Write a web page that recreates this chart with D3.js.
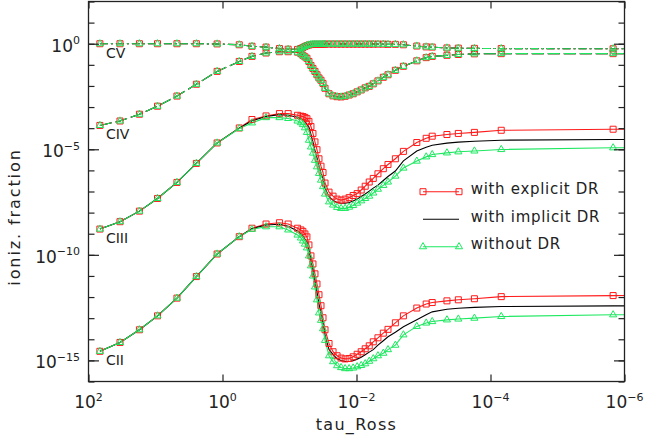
<!DOCTYPE html>
<html>
<head>
<meta charset="utf-8">
<script src="https://cdn.jsdelivr.net/npm/d3@7"></script>
<style>
  body { margin: 0; background: #fff; }
  svg { display: block; }
  text { font-family: "DejaVu Sans", sans-serif; fill: #222; }
</style>
</head>
<body>
<div id="chart"></div>
<script>
// depth grid, log10(tau_Ross)
const logTau = [1.83, 1.53, 1.24, 0.97, 0.68, 0.39, 0.08, -0.25, -0.44, -0.65, -0.85, -0.98, -1.12,
  -1.17, -1.20, -1.23, -1.26, -1.29, -1.32, -1.35, -1.38, -1.41, -1.44, -1.47, -1.50,
  -1.53, -1.59, -1.65, -1.71, -1.77, -1.83, -1.89, -1.95, -2.01, -2.07, -2.13, -2.19, -2.25, -2.32, -2.40, -2.47, -2.58,
  -2.70, -2.90, -3.04, -3.13, -3.35, -3.52, -3.76, -4.16, -5.83, -6.23];

// log10 of ionization fractions
const ciiExplicit = [-14.57, -14.15, -13.55, -12.89, -12.05, -11.03, -9.96, -9.14, -8.74, -8.54, -8.48, -8.54, -8.74,
  -8.82, -8.89, -9.01, -9.15, -9.53, -10.05, -10.43, -10.90, -11.38, -11.89, -12.41, -12.98,
  -13.55, -14.20, -14.59, -14.78, -14.89, -14.93, -14.91, -14.83, -14.71, -14.59, -14.45, -14.31, -14.12, -13.93, -13.71, -13.53, -13.22,
  -12.89, -12.52, -12.33, -12.26, -12.18, -12.13, -12.08, -11.98, -11.93, -11.92];
const ciiImplicit = [-14.57, -14.15, -13.55, -12.89, -12.05, -11.03, -9.96, -9.14, -8.76, -8.59, -8.55, -8.65, -8.87,
  -9.01, -9.11, -9.25, -9.39, -9.77, -10.29, -10.71, -11.23, -11.75, -12.32, -12.75, -13.25,
  -13.80, -14.48, -14.73, -14.92, -15.01, -15.05, -15.05, -15.01, -14.94, -14.85, -14.73, -14.61, -14.49, -14.28, -14.07, -13.88, -13.67,
  -13.41, -13.08, -12.84, -12.70, -12.58, -12.53, -12.49, -12.45, -12.42, -12.42];
const ciiWithout = [-14.57, -14.15, -13.55, -12.89, -12.05, -11.03, -9.96, -9.14, -8.79, -8.67, -8.67, -8.82, -9.06,
  -9.20, -9.34, -9.49, -9.67, -10.05, -10.52, -11.00, -11.52, -12.13, -12.75, -13.10, -13.50,
  -14.05, -14.78, -15.06, -15.25, -15.34, -15.39, -15.39, -15.36, -15.30, -15.24, -15.16, -15.04, -14.92, -14.78, -14.66, -14.49, -14.28,
  -13.79, -13.39, -13.23, -13.16, -13.08, -13.04, -13.00, -12.92, -12.84, -12.83];

const ciiiExplicit = [-8.78, -8.43, -7.93, -7.33, -6.57, -5.67, -4.70, -3.99, -3.59, -3.42, -3.31, -3.31, -3.39,
  -3.43, -3.45, -3.49, -3.55, -3.68, -3.92, -4.25, -4.65, -5.02, -5.45, -5.80, -6.10,
  -6.60, -7.03, -7.22, -7.36, -7.41, -7.36, -7.29, -7.19, -7.10, -6.93, -6.75, -6.55, -6.38, -6.16, -5.92, -5.72, -5.45,
  -5.10, -4.68, -4.48, -4.38, -4.30, -4.25, -4.20, -4.10, -4.05, -4.05];
const ciiiImplicit = [-8.78, -8.43, -7.93, -7.33, -6.57, -5.67, -4.70, -4.00, -3.65, -3.45, -3.36, -3.39, -3.48,
  -3.55, -3.62, -3.70, -3.82, -3.95, -4.30, -4.65, -5.05, -5.40, -5.78, -6.12, -6.42,
  -6.85, -7.25, -7.42, -7.52, -7.56, -7.56, -7.52, -7.45, -7.36, -7.24, -7.12, -6.98, -6.84, -6.70, -6.48, -6.29, -6.03,
  -5.55, -5.08, -4.90, -4.81, -4.71, -4.66, -4.62, -4.57, -4.54, -4.54];
const ciiiWithout = [-8.78, -8.43, -7.93, -7.33, -6.57, -5.67, -4.70, -4.02, -3.75, -3.50, -3.50, -3.54, -3.66,
  -3.74, -3.83, -3.98, -4.20, -4.57, -4.89, -5.18, -5.52, -5.83, -6.14, -6.46, -6.77,
  -7.12, -7.49, -7.64, -7.75, -7.80, -7.80, -7.74, -7.66, -7.55, -7.44, -7.33, -7.22, -7.07, -6.89, -6.71, -6.55, -6.27,
  -5.89, -5.56, -5.36, -5.25, -5.17, -5.12, -5.08, -5.01, -4.93, -4.93];

// CIV and CV: the three models coincide at this scale
const civ = [-3.87, -3.66, -3.34, -2.96, -2.48, -1.92, -1.31, -0.84, -0.60, -0.44, -0.38, -0.38, -0.40,
  -0.47, -0.55, -0.62, -0.69, -0.84, -1.03, -1.17, -1.31, -1.47, -1.62, -1.73, -1.88,
  -2.11, -2.37, -2.47, -2.51, -2.52, -2.49, -2.43, -2.37, -2.28, -2.19, -2.09, -2.02, -1.90, -1.76, -1.59, -1.47, -1.26,
  -1.07, -0.81, -0.66, -0.60, -0.55, -0.51, -0.48, -0.47, -0.47, -0.47];
const cv = [0, 0, 0, 0, 0, 0, -0.01, -0.05, -0.12, -0.16, -0.23, -0.26, -0.27,
  -0.23, -0.18, -0.13, -0.09, -0.06, -0.04, -0.03, -0.03, -0.03, -0.03, -0.03, -0.03,
  -0.02, -0.02, -0.02, -0.02, -0.02, -0.02, -0.02, -0.02, -0.02, -0.02, -0.02, -0.02, -0.02, -0.02, -0.02, -0.03, -0.03,
  -0.05, -0.11, -0.15, -0.16, -0.20, -0.21, -0.22, -0.23, -0.24, -0.24];

const xTicks = [1e2, 1e0, 1e-2, 1e-4, 1e-6];
const yMajor = [1e0, 1e-5, 1e-10, 1e-15];
const models = [
  { key: "explicit", label: "with explicit DR", color: "#ff1a1a", marker: "square" },
  { key: "implicit", label: "with implicit DR", color: "#000000", marker: null },
  { key: "without", label: "without DR", color: "#1ee860", marker: "triangle" }
];
const ions = [
  { name: "CII", dash: null, explicit: ciiExplicit, implicit: ciiImplicit, without: ciiWithout },
  { name: "CIII", dash: null, explicit: ciiiExplicit, implicit: ciiiImplicit, without: ciiiWithout },
  { name: "CIV", dash: "12,4", explicit: civ, implicit: civ, without: civ },
  { name: "CV", dash: "8,3,2,3", explicit: cv, implicit: cv, without: cv }
];

const width = 645, height = 439;
const plotLeft = 88.5, plotRight = 624.5, plotTop = 1.5, plotBottom = 381.5;

const x = d3.scaleLog().domain([1e2, 1e-6]).range([plotLeft, plotRight]);
const y = d3.scaleLog().domain([1e-16, 1e2]).range([plotBottom, plotTop]);

const svg = d3.select("#chart").append("svg")
  .attr("width", width).attr("height", height);

svg.append("defs").append("clipPath").attr("id", "plotclip")
  .append("rect").attr("x", plotLeft).attr("y", plotTop)
  .attr("width", plotRight - plotLeft).attr("height", plotBottom - plotTop);

const pts = arr => arr.map((v, i) => ({ tau: Math.pow(10, logTau[i]), v: Math.pow(10, v) }));

const line = d3.line().x(d => x(d.tau)).y(d => y(d.v));

const plot = svg.append("g").attr("clip-path", "url(#plotclip)");

// lines: red, black, green
models.forEach(m => {
  ions.forEach(ion => {
    plot.append("path")
      .datum(pts(ion[m.key]))
      .attr("fill", "none")
      .attr("stroke", m.color)
      .attr("stroke-width", 1.1)
      .attr("stroke-dasharray", ion.dash)
      .attr("d", line);
  });
});

const square = d3.symbol().type(d3.symbolSquare).size(36);
const triangle = d3.symbol().type(d3.symbolTriangle).size(22);

models.filter(m => m.marker).forEach(m => {
  ions.forEach(ion => {
    plot.append("g").selectAll("path")
      .data(pts(ion[m.key]))
      .join("path")
      .attr("transform", d => `translate(${x(d.tau)},${y(d.v)})`)
      .attr("d", m.marker === "square" ? square : triangle)
      .attr("fill", "none")
      .attr("stroke", m.color)
      .attr("stroke-width", 1);
  });
});

// ion labels beside first depth point
ions.forEach(ion => {
  const p = pts(ion.explicit)[0];
  svg.append("text")
    .attr("x", x(p.tau) + 6)
    .attr("y", y(p.v) + 14)
    .attr("font-size", 14)
    .text(ion.name);
});

// axes
const yDecades = d3.range(-16, 3).map(e => Math.pow(10, e));
const noLabel = () => "";

svg.append("g").attr("transform", `translate(0,${plotBottom})`)
  .call(d3.axisBottom(x).tickValues(xTicks).tickSize(-7).tickFormat(noLabel));
svg.append("g").attr("transform", `translate(0,${plotTop})`)
  .call(d3.axisTop(x).tickValues(xTicks).tickSize(-7).tickFormat(noLabel));
svg.append("g").attr("transform", `translate(${plotLeft},0)`)
  .call(d3.axisLeft(y).tickValues(yDecades).tickSize(-6).tickFormat(noLabel));
svg.append("g").attr("transform", `translate(${plotLeft},0)`)
  .call(d3.axisLeft(y).tickValues(yMajor).tickSize(-10.5).tickFormat(noLabel));
svg.append("g").attr("transform", `translate(${plotRight},0)`)
  .call(d3.axisRight(y).tickValues(yDecades).tickSize(-6).tickFormat(noLabel));
svg.append("g").attr("transform", `translate(${plotRight},0)`)
  .call(d3.axisRight(y).tickValues(yMajor).tickSize(-10.5).tickFormat(noLabel));

svg.selectAll(".domain").remove();
svg.selectAll(".tick line").attr("stroke", "#222").attr("stroke-width", 1.2);

svg.append("rect")
  .attr("x", plotLeft).attr("y", plotTop)
  .attr("width", plotRight - plotLeft).attr("height", plotBottom - plotTop)
  .attr("fill", "none").attr("stroke", "#222").attr("stroke-width", 1.3);

const expOf = v => Math.round(Math.log10(v));
const expText = e => (e < 0 ? "\u2212" + (-e) : String(e));

function powerLabel(sel, v) {
  sel.append("tspan").text("10");
  sel.append("tspan").attr("font-size", 11).attr("dy", -7.5).text(expText(expOf(v)));
}

xTicks.forEach(t => {
  svg.append("text")
    .attr("x", x(t)).attr("y", 408)
    .attr("text-anchor", "middle")
    .attr("font-size", 17)
    .call(powerLabel, t);
});

yMajor.forEach(t => {
  svg.append("text")
    .attr("x", 80).attr("y", y(t) + 8)
    .attr("text-anchor", "end")
    .attr("font-size", 17)
    .call(powerLabel, t);
});

svg.append("text")
  .attr("x", (plotLeft + plotRight) / 2).attr("y", 430)
  .attr("text-anchor", "middle")
  .attr("font-size", 16)
  .attr("letter-spacing", 1.3)
  .text("tau_Ross");

svg.append("text")
  .attr("transform", "translate(20,217) rotate(-90)")
  .attr("text-anchor", "middle")
  .attr("font-size", 16)
  .attr("letter-spacing", 1.9)
  .text("ioniz. fraction");

// legend
const legend = svg.append("g").attr("transform", "translate(423,191.7)");
models.forEach((m, i) => {
  const g = legend.append("g").attr("transform", `translate(0,${i * 27.5})`);
  g.append("line").attr("x1", 0).attr("x2", 36)
    .attr("stroke", m.color).attr("stroke-width", 1.1);
  if (m.marker) {
    [0, 36].forEach(px => {
      g.append("path")
        .attr("transform", `translate(${px},0)`)
        .attr("d", m.marker === "square" ? square : triangle)
        .attr("fill", "none").attr("stroke", m.color).attr("stroke-width", 1);
    });
  }
  g.append("text").attr("x", 47.7).attr("y", 2.6)
    .attr("font-size", 15).attr("letter-spacing", 0.7)
    .text(m.label);
});
</script>
</body>
</html>
